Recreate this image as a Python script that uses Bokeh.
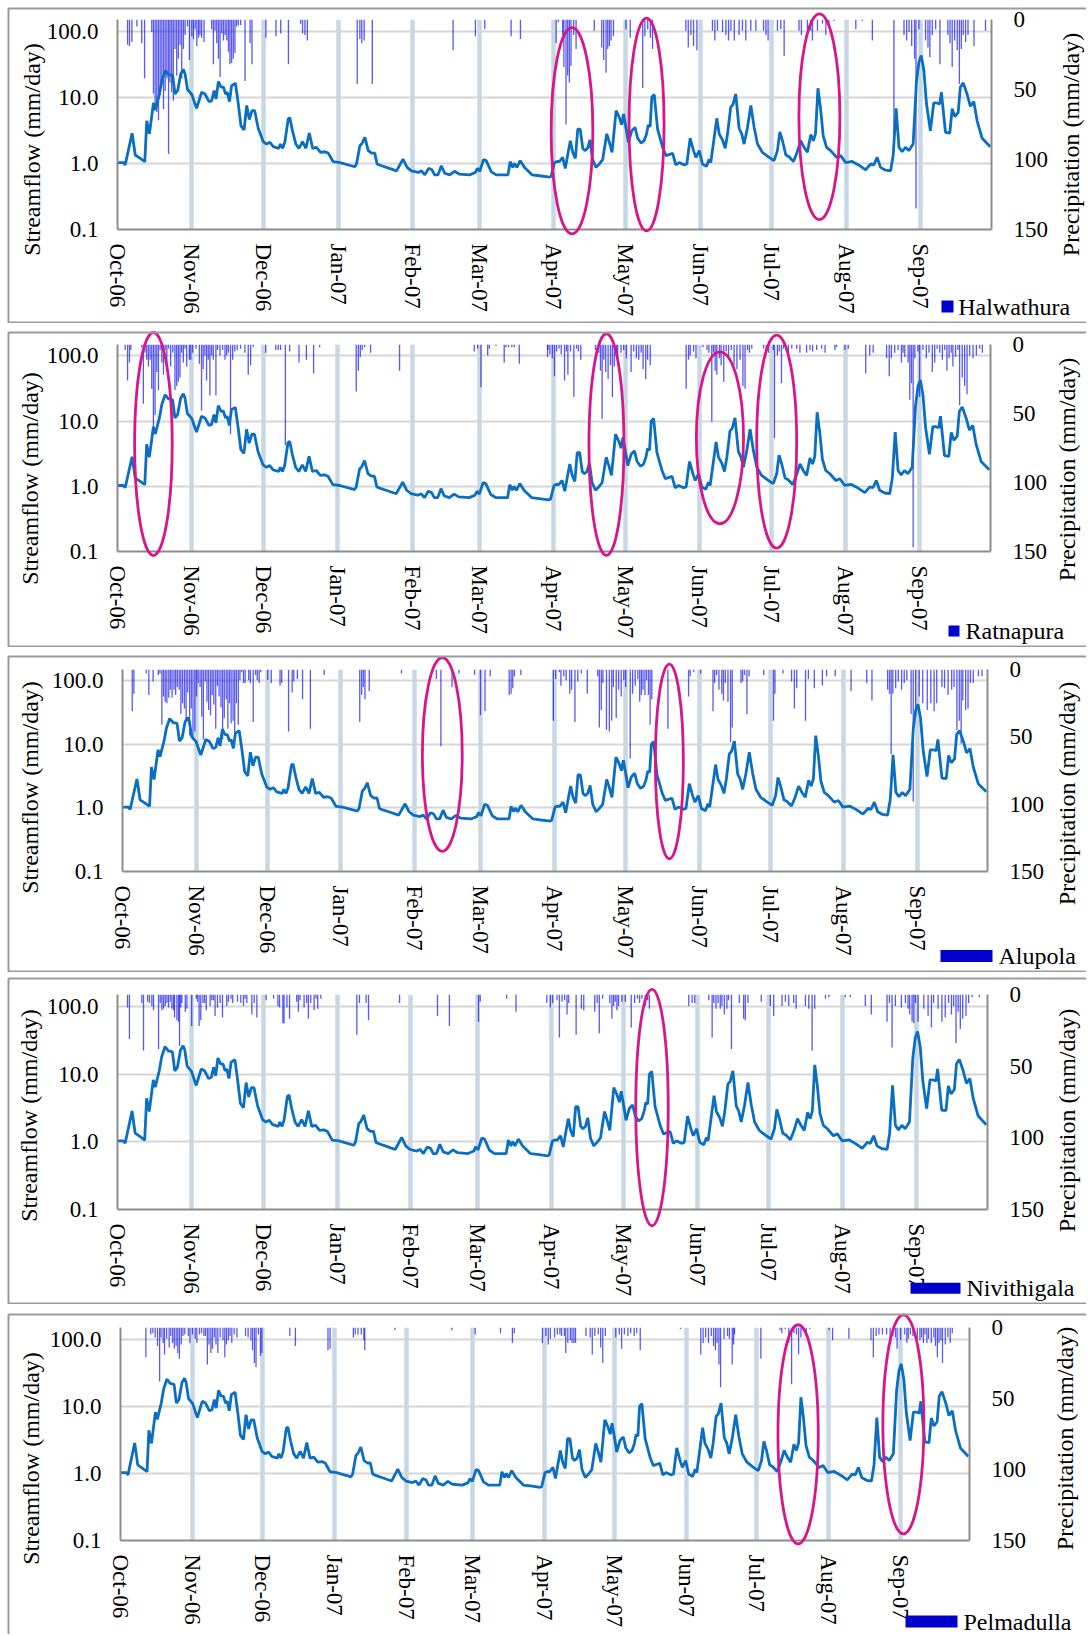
import math
from bokeh.plotting import figure
from bokeh.models import Range1d, LinearScale, LinearAxis, FixedTicker, PrintfTickFormatter
from bokeh.embed import file_html
from bokeh.resources import INLINE
from bokeh.core.properties import value

SERIF = "Liberation Serif"

# ---------------- data ----------------
# day 0 = 1 Oct 2006
month_days = [0, 31, 61, 92, 123, 151, 182, 212, 243, 273, 304, 335]
month_labels = ["Oct-06", "Nov-06", "Dec-06", "Jan-07", "Feb-07", "Mar-07",
                "Apr-07", "May-07", "Jun-07", "Jul-07", "Aug-07", "Sep-07"]
flow_ticks = [0.1, 1, 10, 100]
precip_ticks = [0, 50, 100, 150]

flow_day = [0, 2.5, 3.2, 6.1, 7.4, 9.5, 11.4, 12.2, 13.3, 15.0,
            15.8, 17.5, 18.5, 19.9, 21.3, 23.0, 24.0, 25.1, 26.4, 27.5,
            28.2, 29.2, 31.0, 33.0, 35.1, 36.5, 38.2, 39.3, 40.3, 41.1,
            42.1, 43.2, 44.2, 45.1, 45.8, 46.7, 47.6, 49.2, 50.4, 51.5,
            52.8, 53.9, 55.0, 56.1, 57.2, 58.7, 60.8, 62.2, 63.6, 65.0,
            67.3, 68.0, 68.9, 69.8, 71.2, 71.9, 73.0, 74.4, 75.7, 77.2,
            78.6, 80.0, 81.4, 83.0, 84.7, 86.5, 87.9, 90.0, 92.8, 99.0,
            99.7, 101.1, 102.0, 103.2, 104.6, 106.0, 107.3, 108.3, 110.1, 112.2,
            116.4, 119.1, 120.8, 122.6, 125.4, 126.8, 128.2, 129.8, 131.2, 132.3,
            133.7, 135.1, 136.5, 138.6, 140.6, 142.5, 146.9, 149.3, 150.1, 151.1,
            152.7, 153.8, 155.9, 158.0, 162.9, 163.8, 164.9, 165.6, 166.6, 168.0,
            169.8, 173.0, 176.0, 180.2,
            180.9, 182.3, 183.4, 184.3, 185.7, 186.8, 187.8, 188.9, 189.9, 191.0,
            192.0, 193.0, 194.1, 195.0, 196.1, 197.1, 198.2, 199.6, 201.0, 202.4,
            204.1, 205.2, 206.3, 208.0, 209.3, 210.3, 211.1, 212.1, 213.1, 214.5,
            215.9, 217.0, 218.4, 219.7, 220.7, 221.4, 222.2, 222.9, 223.9, 225.3,
            227.4, 228.8, 231.6, 232.9, 234.3, 236.4, 237.5, 238.9, 240.3, 241.3,
            242.7, 244.0, 245.7, 246.8, 247.5, 250.0, 251.0, 252.4, 253.5, 254.5,
            255.8, 256.7, 257.9, 259.3, 260.4, 261.4, 262.8, 264.2, 265.6, 267.0,
            269.0, 271.8, 273.9, 275.3, 276.3, 277.4, 278.8, 280.1, 282.0, 283.6,
            285.0, 286.4, 287.8, 289.2, 290.3, 291.2, 292.2, 293.3, 294.4, 295.8,
            297.5, 300.0, 301.7, 303.7, 306.5, 309.3, 312.1, 314.2, 315.5, 316.9,
            318.3, 320.4, 322.5, 323.6, 324.8, 326.0, 327.3, 328.7, 330.1, 331.9,
            333.3, 334.3, 335.3, 336.4, 337.5, 339.1, 340.5, 341.9, 343.0, 343.7,
            345.4, 347.2, 348.2, 349.3, 350.7, 351.6, 352.8, 354.4, 355.8, 357.2,
            358.6, 360.7, 364.1]
flow_val = [1.03, 1.03, 0.95, 2.85, 1.34, 1.19, 1.06, 4.4, 2.8, 8.2,
            6.4, 11.2, 17.9, 25.4, 22.0, 21.3, 11.2, 12.6, 22.6, 26.3,
            22.6, 13.1, 11.0, 6.8, 11.9, 11.2, 8.6, 8.9, 12.6, 9.4,
            17.3, 14.2, 14.2, 11.2, 11.9, 8.6, 15.0, 16.3, 7.9, 3.7,
            3.2, 7.5, 4.6, 6.3, 6.3, 3.4, 2.13, 1.96, 2.08, 1.79,
            1.69, 1.96, 1.69, 2.08, 4.7, 4.9, 3.1, 1.96, 1.69, 2.13,
            1.69, 2.88, 1.69, 1.75, 1.47, 1.50, 1.43, 1.06, 1.03, 0.89,
            0.98, 1.85, 2.0, 2.48, 1.56, 1.43, 1.43, 0.98, 0.92, 0.87,
            0.77, 1.16, 0.87, 0.77, 0.73, 0.77, 0.67, 0.84, 0.80, 0.67,
            0.67, 0.92, 0.71, 0.67, 0.76, 0.69, 0.67, 0.73, 0.84, 0.76,
            1.14, 1.10, 0.75, 0.67, 0.67, 1.06, 0.87, 1.0, 0.87, 1.10,
            0.87, 0.67, 0.65, 0.62,
            0.64, 1.03, 1.07, 1.06, 1.23, 0.84, 1.34, 2.2, 1.47, 1.19,
            3.3, 3.3, 1.69, 1.56, 1.69, 2.26, 1.14, 0.87, 0.98, 1.14,
            2.8, 2.08, 1.47, 6.3, 5.0, 3.85, 5.6, 3.5, 2.08, 3.1,
            3.5, 2.4, 2.03, 2.2, 2.8, 3.8, 3.6, 10.0, 11.0, 3.3,
            1.75, 1.31, 1.42, 0.95, 1.03, 0.95, 0.98, 2.4, 1.56, 1.23,
            1.56, 0.98, 0.90, 1.16, 1.03, 4.8, 2.8, 2.26, 1.69, 2.8,
            7.1, 7.7, 11.2, 3.4, 2.8, 1.96, 3.5, 7.5, 3.5, 1.96,
            1.47, 1.23, 1.10, 1.56, 3.0, 2.2, 1.34, 1.26, 1.07, 1.50,
            2.2, 1.75, 1.47, 2.72, 2.2, 2.85, 13.7, 6.7, 2.6, 1.75,
            1.56, 1.23, 1.31, 1.03, 1.07, 0.94, 0.80, 0.98, 0.95, 1.23,
            0.87, 0.79, 0.77, 1.34, 6.8, 1.75, 1.50, 1.75, 1.56, 1.96,
            17.3, 33.9, 42.8, 25.4, 7.9, 3.1, 8.2, 8.2, 7.9, 11.9,
            2.95, 2.88, 6.7, 5.1, 5.9, 14.2, 16.5, 11.2, 7.3, 8.6,
            4.4, 2.4, 1.79]

halwathura_day = [4.2, 5.0, 6.0, 8.1, 10.1, 11.3, 14.3, 15.0, 15.7, 16.4, 17.1, 17.8, 18.5, 19.2, 19.9, 20.6,
                  21.3, 21.9, 22.6, 23.3, 24.0, 24.7, 25.4, 26.1, 26.8, 27.5, 28.2, 29.2, 30.0, 31.0, 31.7,
                  32.4, 33.1, 33.8, 34.4, 35.1, 36.1, 39.3, 40.0, 40.7, 41.4, 42.1, 42.8, 43.5, 44.2, 44.9,
                  45.6, 46.3, 46.9, 47.6, 48.3, 49.0, 49.7, 50.4, 51.4, 53.2, 55.3, 56.1, 61.9, 66.1, 68.1,
                  71.3, 76.4, 77.2, 78.2, 79.2, 100.0, 101.1, 101.9, 102.9, 106.3, 140.0, 149.3, 153.2, 164.2,
                  168.1,
                  183.0, 183.9, 185.7, 186.2, 187.1, 187.8, 188.5, 189.2, 190.3, 191.3, 198.9, 202.0, 202.8,
                  203.8, 204.5, 205.2, 205.9, 206.9, 212.1, 213.9, 219.1, 220.0, 221.2, 222.3, 223.2, 237.1,
                  238.1, 239.2, 240.3, 241.7, 248.2, 249.2, 250.3, 252.4, 253.8, 254.9, 255.9, 257.3, 259.3,
                  260.7, 262.1, 264.2, 266.3, 269.5, 270.5, 271.4, 275.3, 276.7, 278.1, 284.3, 285.3, 287.8,
                  289.2, 289.9, 292.0, 294.1, 295.5, 296.8, 298.9, 308.0, 310.7, 314.9, 323.9, 328.1, 329.2,
                  330.2, 331.3, 332.5, 333.1, 334.3, 337.1, 338.1, 338.9, 339.9, 341.3, 343.1, 346.4, 347.3,
                  348.2, 349.2, 350.3, 351.2, 352.0, 352.8, 353.8, 354.8, 357.3, 362.1]
halwathura_mm = [18, 19, 16, 5, 17, 42, 9, 53, 62, 66, 72, 54, 47, 64, 51, 42,
                 96, 45, 52, 58, 21, 40, 28, 18, 42, 21, 11, 5, 29, 12, 14,
                 7, 19, 13, 11, 13, 16, 7, 32, 8, 17, 28, 41, 10, 15, 11,
                 15, 23, 32, 31, 28, 24, 5, 4, 4, 44, 17, 32, 13, 12, 10,
                 32, 3, 10, 11, 15, 46, 14, 17, 15, 46, 22, 12, 7, 12,
                 14,
                 17, 2, 11, 34, 75, 40, 45, 33, 11, 21, 8, 20, 29,
                 38, 21, 19, 15, 12, 7, 13, 49, 12, 7, 13, 21, 8,
                 20, 11, 19, 22, 8, 15, 8, 9, 11, 15, 8, 15, 11,
                 8, 15, 8, 8, 8, 11, 15, 8, 7, 26, 8, 11, 7,
                 8, 15, 8, 3, 11, 5, 1, 7, 1, 15, 95, 11, 15,
                 9, 19, 28, 135, 7, 15, 20, 27, 11, 7, 32, 11, 17,
                 34, 15, 22, 46, 21, 11, 16, 11, 19, 8]

ratnapura_day = [3.2, 4.2, 5.0, 5.6, 10.1, 10.8, 11.5, 12.2, 12.9, 13.6, 14.3, 15.0, 15.7, 16.4, 17.1, 17.8,
                 18.5, 19.2, 19.9, 20.6, 21.3, 22.2, 23.1, 24.0, 24.7, 25.4, 26.1, 26.8, 27.5, 28.2, 28.9,
                 30.0, 30.6, 31.4, 32.8, 34.2, 35.1, 35.8, 36.5, 37.2, 37.9, 38.6, 39.3, 40.0, 41.1, 41.8,
                 42.8, 43.9, 44.9, 45.6, 46.3, 47.2, 48.1, 49.0, 50.0, 51.4, 53.2, 54.6, 55.6, 56.7, 61.9,
                 66.1, 67.1, 68.1, 70.1, 71.9, 75.8, 78.9, 81.9, 84.4, 99.7, 100.6, 101.4, 102.2, 103.2,
                 105.7, 117.8, 149.0, 150.4, 151.8, 154.6, 155.3, 158.1, 161.5, 162.2, 163.3, 164.7, 165.7,
                 167.8, 179.6,
                 179.8, 180.6, 181.6, 182.5, 183.4, 184.4, 185.3, 186.7, 187.5, 188.1, 189.2, 190.6, 191.7,
                 192.5, 193.5, 199.6, 201.0, 201.7, 202.4, 203.1, 203.9, 204.9, 205.9, 206.7, 207.5, 208.4,
                 208.9, 210.3, 211.4, 212.5, 214.5, 215.6, 216.7, 217.7, 218.7, 219.5, 220.6, 221.4, 222.5,
                 237.5, 238.5, 239.2, 240.6, 241.6, 244.5, 246.2, 247.0, 248.2, 248.9, 249.6, 250.3, 251.4,
                 252.1, 253.2, 254.2, 255.2, 256.3, 257.5, 258.7, 260.0, 261.2, 262.1, 263.1, 263.9, 264.9,
                 269.8, 270.9, 271.9, 273.9, 274.4, 275.6, 276.4, 277.3, 278.1, 280.2, 281.6, 283.7, 285.0,
                 287.8, 289.2, 290.3, 292.0, 294.1, 295.5, 299.6, 300.3, 303.8, 305.2, 312.5, 314.2, 315.6,
                 321.2, 322.3, 323.2, 324.6, 326.0, 327.4, 328.1, 328.8, 330.2, 330.9, 331.6, 332.3, 333.0,
                 334.3, 335.0, 336.4, 337.8, 338.9, 340.3, 341.3, 342.3, 343.4, 344.5, 345.5, 346.4, 347.3,
                 348.2, 348.9, 350.0, 351.0, 351.7, 352.8, 353.8, 354.8, 355.9, 357.3, 358.7, 360.1, 361.2]
ratnapura_mm = [4, 26, 13, 4, 2, 43, 6, 11, 16, 11, 32, 63, 51, 20, 33, 4,
                13, 22, 4, 14, 3, 16, 6, 33, 30, 27, 24, 6, 13, 3, 16,
                11, 11, 6, 3, 14, 48, 18, 8, 26, 11, 37, 8, 11, 37, 4,
                8, 4, 11, 8, 6, 65, 11, 5, 4, 3, 6, 22, 15, 2, 6,
                4, 4, 4, 73, 5, 13, 11, 21, 2, 34, 19, 9, 4, 2,
                6, 19, 5, 3, 31, 8, 3, 1, 13, 2, 2, 2, 2,
                14, 9,
                4, 7, 10, 23, 5, 3, 7, 26, 5, 22, 5, 38, 3,
                5, 11, 4, 6, 19, 54, 11, 20, 25, 15, 38, 16, 8,
                10, 6, 4, 10, 20, 5, 10, 11, 6, 18, 25, 11, 15,
                32, 11, 8, 5, 10, 2, 4, 6, 56, 6, 19, 22, 10,
                15, 27, 5, 11, 4, 15, 18, 11, 30, 32, 4, 6, 3,
                3, 4, 6, 4, 68, 8, 5, 28, 3, 6, 3, 3, 6,
                6, 4, 5, 4, 3, 6, 4, 2, 4, 3, 21, 8, 6,
                10, 23, 10, 6, 4, 13, 6, 9, 13, 40, 28, 147, 10,
                5, 38, 4, 10, 6, 20, 13, 3, 6, 11, 4, 19, 10,
                6, 16, 9, 4, 44, 24, 30, 36, 8, 10, 8, 3, 6]

alupola_day = [4.1, 4.8, 10.0, 11.1, 12.9, 15.1, 15.8, 16.6, 17.3, 18.0, 18.7, 19.5, 20.2, 20.9, 21.7, 22.4,
               23.1, 23.9, 24.6, 25.3, 26.1, 26.8, 27.5, 28.3, 29.0, 29.7, 30.5, 31.2, 31.9, 32.7, 33.4,
               34.1, 34.9, 35.6, 36.3, 37.1, 37.8, 38.5, 39.3, 40.0, 40.7, 41.5, 42.2, 42.9, 43.7, 44.4,
               45.1, 45.8, 46.6, 47.3, 48.0, 48.8, 49.5, 50.2, 51.0, 51.7, 53.2, 53.9, 55.1, 56.1, 56.8,
               57.6, 58.3, 61.2, 62.7, 66.4, 67.1, 70.0, 71.5, 72.2, 73.7, 75.9, 79.2, 85.0, 100.0, 100.8,
               101.5, 102.2, 104.0, 117.6, 132.3, 134.2, 138.9, 141.8, 148.4, 150.9, 152.8, 155.0, 163.0,
               163.8, 164.5, 165.2, 167.9,
               181.6, 182.6, 184.1, 184.8, 186.0, 187.0, 188.5, 189.3, 190.7, 191.9, 193.4, 195.9, 200.3,
               201.0, 201.8, 202.5, 204.0, 205.2, 206.2, 206.9, 208.1, 209.1, 210.2, 211.3, 212.1, 214.0,
               215.0, 216.1, 217.2, 218.0, 218.7, 219.4, 220.2, 220.9, 221.7, 222.4, 223.1, 229.9, 238.6,
               239.3, 240.8, 243.7, 248.9, 249.6, 250.4, 251.4, 252.6, 253.3, 254.1, 255.2, 256.3, 257.0,
               260.7, 261.4, 262.2, 263.2, 264.1, 270.3, 274.4, 275.0, 278.4, 282.0, 283.2, 284.2, 287.9,
               289.1, 291.6, 295.0, 296.8, 300.4, 307.1, 313.7, 315.9, 322.5, 323.3, 324.0, 324.7, 325.9,
               327.0, 328.4, 329.5, 330.6, 332.4, 333.3, 334.3, 335.8, 337.3, 339.2, 340.7, 342.1, 343.2,
               345.4, 346.5, 348.0, 349.5, 350.5, 351.7, 352.7, 353.5, 354.2, 355.4, 356.4, 357.4, 358.6,
               360.8, 362.3]
alupola_mm = [31, 18, 3, 19, 9, 4, 3, 41, 20, 24, 25, 21, 15, 21, 15, 19,
              13, 15, 33, 25, 29, 39, 17, 49, 29, 52, 46, 20, 10, 13, 35,
              52, 9, 24, 30, 34, 19, 26, 44, 12, 20, 28, 52, 36, 22, 44,
              25, 40, 38, 52, 25, 41, 8, 2, 10, 10, 8, 10, 39, 4, 8,
              10, 2, 8, 10, 12, 10, 46, 17, 9, 7, 22, 44, 4, 39, 19,
              13, 22, 16, 3, 7, 57, 13, 3, 4, 34, 31, 5, 19,
              18, 14, 5, 4,
              38, 7, 2, 12, 5, 8, 18, 15, 39, 9, 3, 18, 5,
              43, 30, 10, 45, 46, 38, 13, 36, 15, 20, 8, 13, 66,
              18, 12, 7, 24, 19, 15, 19, 8, 19, 41, 22, 44, 20,
              5, 2, 3, 31, 10, 4, 15, 18, 23, 10, 24, 54, 43,
              10, 9, 4, 33, 5, 4, 38, 18, 3, 9, 29, 14, 38,
              7, 14, 12, 5, 5, 16, 10, 23, 15, 18, 63, 18, 14,
              9, 15, 10, 8, 33, 98, 35, 20, 25, 30, 25, 31, 25,
              13, 14, 19, 15, 13, 45, 38, 55, 23, 30, 29, 10, 10,
              5, 5]

nivithigala_day = [4.2, 5.0, 10.2, 10.9, 12.6, 13.4, 14.4, 15.1, 17.2, 17.9, 18.6, 19.3, 20.0, 20.7, 21.4,
                   22.1, 22.8, 23.5, 23.9, 24.9, 25.6, 26.0, 26.5, 27.0, 28.4, 29.1, 31.1, 33.0, 33.5, 34.2,
                   34.9, 35.8, 36.5, 37.2, 38.8, 39.5, 40.2, 40.9, 41.9, 43.0, 44.0, 45.8, 46.5, 47.6, 48.3,
                   50.3, 51.7, 52.8, 53.5, 54.2, 56.3, 57.3, 58.4, 62.3, 65.4, 67.2, 67.9, 69.3, 69.8, 71.0,
                   72.1, 75.1, 75.8, 76.5, 78.2, 79.3, 80.0, 81.0, 82.4, 83.2, 83.9, 85.2, 100.3, 101.4,
                   104.2, 105.2, 118.2, 134.1, 139.1, 151.3, 152.0, 163.1, 167.0, 179.9,
                   181.4, 182.4, 184.2, 185.2, 186.3, 187.4, 188.4, 189.1, 192.2, 194.4, 195.4, 200.0, 201.0,
                   201.9, 203.3, 206.3, 207.2, 207.9, 208.6, 209.3, 210.0, 211.4, 212.8, 215.3, 216.7, 217.9,
                   218.8, 219.8, 221.2, 222.2, 222.9, 239.4, 240.8, 241.9, 247.8, 249.2, 249.9, 250.8, 251.7,
                   252.6, 253.3, 254.3, 255.4, 256.1, 257.3, 260.6, 262.4, 263.1, 264.2, 269.8, 273.6, 275.0,
                   278.5, 279.9, 281.3, 283.4, 284.4, 288.3, 289.7, 291.1, 292.2, 296.7, 298.1, 305.0, 307.1,
                   313.4, 315.9, 322.5, 323.5, 324.6, 326.0, 328.5, 330.2, 331.3, 332.0, 333.0, 333.7, 334.4,
                   335.5, 337.9, 339.7, 341.1, 342.0, 343.9, 345.5, 346.9, 348.3, 349.5, 350.4, 351.4, 352.3,
                   353.2, 354.2, 355.6, 356.7, 358.1, 361.2]
nivithigala_mm = [9, 31, 6, 39, 5, 6, 8, 11, 38, 6, 11, 10, 8, 6, 9,
                  5, 10, 11, 16, 18, 19, 36, 9, 6, 12, 10, 22, 3, 5, 22,
                  18, 6, 6, 11, 8, 4, 4, 15, 9, 6, 16, 8, 5, 3, 6,
                  5, 6, 8, 3, 6, 14, 6, 16, 4, 3, 8, 9, 20, 20, 9,
                  17, 5, 12, 4, 9, 6, 17, 6, 11, 3, 10, 3, 28, 6,
                  6, 18, 6, 15, 22, 19, 5, 3, 12, 6,
                  9, 6, 4, 30, 5, 4, 14, 6, 28, 10, 11, 12, 6,
                  27, 3, 6, 17, 8, 5, 11, 8, 5, 5, 23, 6, 3,
                  6, 3, 8, 4, 10, 8, 6, 6, 4, 30, 6, 10, 6,
                  10, 8, 14, 10, 4, 38, 6, 17, 18, 6, 5, 8, 15,
                  8, 5, 8, 6, 10, 8, 10, 39, 10, 3, 2, 2, 2,
                  8, 14, 19, 6, 37, 8, 9, 6, 10, 14, 19, 20, 6,
                  19, 10, 15, 23, 6, 10, 19, 16, 6, 14, 8, 34, 12,
                  24, 17, 15, 6, 2, 2]

pelmadulla_day = [10.9, 13.0, 13.9, 14.9, 15.9, 16.8, 17.4, 18.3, 18.9, 19.8, 20.9, 21.6, 22.4, 23.1, 23.9,
                  24.6, 25.3, 26.1, 26.8, 27.6, 29.1, 29.8, 30.9, 32.1, 32.8, 33.9, 34.8, 35.8, 36.5, 37.3,
                  38.0, 38.8, 39.5, 40.3, 41.0, 41.8, 42.8, 44.0, 44.8, 45.5, 46.3, 47.0, 47.8, 48.8, 50.0,
                  53.7, 54.8, 56.0, 56.7, 57.5, 58.2, 59.2, 60.1, 60.7, 72.7, 75.1, 89.1, 90.0, 100.0, 100.8,
                  102.0, 103.4, 104.5, 104.9, 117.9, 142.3, 152.3, 163.2, 168.3, 169.1,
                  181.2, 182.7, 183.7, 184.6, 186.4, 187.6, 188.7, 189.4, 190.6, 191.2, 192.1, 193.2, 193.9,
                  194.7, 195.4, 199.9, 201.7, 202.6, 203.7, 205.2, 206.2, 207.1, 208.2, 212.7, 214.2, 215.2,
                  216.4, 217.9, 219.1, 220.6, 221.7, 223.2, 240.5, 249.2, 250.2, 251.3, 252.5, 253.7, 254.7,
                  255.5, 256.2, 257.0, 257.7, 259.2, 260.7, 261.5, 262.7, 263.3, 263.7, 275.0, 283.2, 284.0,
                  285.5, 287.0, 288.2, 289.2, 290.3, 291.2, 292.2, 294.5, 296.0, 304.3, 305.8, 312.8, 322.3,
                  323.3, 324.5, 325.7, 327.2, 329.0, 330.5, 331.7, 332.8, 333.5, 335.0, 336.8, 337.7, 338.3,
                  339.2, 340.3, 342.2, 343.3, 344.0, 344.8, 345.5, 346.3, 347.0, 348.2, 349.3, 350.0, 350.8,
                  351.5, 352.3, 353.0, 354.2, 355.3, 356.3, 357.2]
pelmadulla_mm = [21, 5, 4, 7, 13, 38, 7, 11, 19, 8, 14, 6, 11, 15, 13,
                 18, 22, 12, 6, 5, 6, 11, 5, 8, 11, 5, 4, 6, 6, 26,
                 12, 18, 15, 7, 12, 18, 7, 9, 21, 12, 9, 6, 11, 5, 7,
                 6, 7, 9, 16, 25, 28, 5, 20, 18, 6, 13, 16, 15, 7, 5,
                 5, 5, 9, 16, 2, 2, 5, 4, 11, 4,
                 11, 6, 12, 8, 7, 5, 5, 6, 6, 18, 11, 9, 11,
                 11, 11, 6, 7, 19, 6, 5, 14, 25, 6, 7, 5, 15,
                 5, 6, 4, 6, 4, 16, 1, 19, 11, 7, 11, 6, 13,
                 16, 11, 26, 42, 8, 6, 8, 26, 12, 5, 22, 2, 4,
                 1, 11, 40, 4, 5, 19, 7, 4, 1, 2, 9, 8, 9,
                 21, 6, 5, 5, 5, 8, 6, 7, 15, 9, 5, 11, 8,
                 5, 6, 8, 9, 7, 11, 5, 11, 8, 11, 7, 13, 21,
                 11, 9, 25, 12, 7, 11, 4]

# highlight ellipses: centre day, centre precipitation (mm), width (days), height (mm)
halwathura_ell_day = [189.6, 220.7, 292.8]
halwathura_ell_mm = [79.5, 75.0, 69.5]
halwathura_ell_w = [17.4, 14.6, 17.1]
halwathura_ell_h = [147.5, 152.0, 147.0]
ratnapura_ell_day = [15.0, 204.2, 251.6, 275.3]
ratnapura_ell_mm = [72.1, 72.5, 67.6, 70.4]
ratnapura_ell_w = [15.7, 14.6, 19.7, 16.7]
ratnapura_ell_h = [161.6, 160.9, 124.6, 154.4]
alupola_ell_day = [134.8, 230.5]
alupola_ell_mm = [63.1, 68.3]
alupola_ell_w = [16.8, 11.8]
alupola_ell_h = [144.0, 144.5]
nivithigala_ell_day = [224.0]
nivithigala_ell_mm = [78.9]
nivithigala_ell_w = [13.6]
nivithigala_ell_h = [164.9]
pelmadulla_ell_day = [291.0, 336.2]
pelmadulla_ell_mm = [75.2, 68.2]
pelmadulla_ell_w = [17.3, 17.6]
pelmadulla_ell_h = [154.3, 154.3]

assert len(flow_day) == len(flow_val)

# ---------------- layout (page pixels) ----------------
panels = [
    dict(name="Halwathura", day=halwathura_day, mm=halwathura_mm,
         ell=(halwathura_ell_day, halwathura_ell_mm, halwathura_ell_w, halwathura_ell_h),
         L=117.3, R=991.7, T=19.0, B=228.5, top=7, bottom=323, box_bottom_visible=True,
         leg_x=941, leg_w=12, leg_lw=12, leg_cy=306, leg_tx=957.7,
         tl=(31, 149), tr=(1070, 144)),
    dict(name="Ratnapura", day=ratnapura_day, mm=ratnapura_mm,
         ell=(ratnapura_ell_day, ratnapura_ell_mm, ratnapura_ell_w, ratnapura_ell_h),
         L=117.3, R=990.0, T=344.3, B=551.0, top=331, bottom=647, box_bottom_visible=True,
         leg_x=948, leg_w=11, leg_lw=11, leg_cy=630.5, leg_tx=965,
         tl=(29, 478), tr=(1066, 469)),
    dict(name="Alupola", day=alupola_day, mm=alupola_mm,
         ell=(alupola_ell_day, alupola_ell_mm, alupola_ell_w, alupola_ell_h),
         L=122.4, R=987.4, T=669.3, B=871.7, top=655, bottom=972, box_bottom_visible=True,
         leg_x=940, leg_w=52, leg_lw=12, leg_cy=955.5, leg_tx=998,
         tl=(29, 787), tr=(1066, 793)),
    dict(name="Nivithigala", day=nivithigala_day, mm=nivithigala_mm,
         ell=(nivithigala_ell_day, nivithigala_ell_mm, nivithigala_ell_w, nivithigala_ell_h),
         L=117.3, R=987.7, T=994.0, B=1209.3, top=977, bottom=1304, box_bottom_visible=True,
         leg_x=910, leg_w=50, leg_lw=11, leg_cy=1287.7, leg_tx=966,
         tl=(28, 1115), tr=(1066, 1120)),
    dict(name="Pelmadulla", day=pelmadulla_day, mm=pelmadulla_mm,
         ell=(pelmadulla_ell_day, pelmadulla_ell_mm, pelmadulla_ell_w, pelmadulla_ell_h),
         L=120.0, R=968.8, T=1326.7, B=1539.3, top=1313, bottom=1634, box_bottom_visible=False,
         leg_x=905, leg_w=52, leg_lw=12, leg_cy=1621, leg_tx=963,
         tl=(30, 1458), tr=(1064, 1438)),
]

X_END = 364.6
BOX_L, BOX_R = 7, 1086
AXIS_GREY = "#8c8c8c"
BOX_GREY = "#9b9b9b"


def make_panel(cfg):
    total_w = BOX_R - BOX_L
    total_h = cfg["bottom"] - cfg["top"]
    mbl = int(round(cfg["L"] - BOX_L))
    fw = int(round(cfg["R"] - cfg["L"]))
    mbr = total_w - mbl - fw
    mbt = int(round(cfg["T"] - cfg["top"]))
    fh = int(round(cfg["B"] - cfg["T"]))
    mbb = total_h - mbt - fh

    # actual page position of the frame, used to place the non-data decorations
    Lp = BOX_L + mbl
    Tp = cfg["top"] + mbt
    ppd = fw / X_END
    ppm = fh / 150.0

    def dx(px):
        return (px - Lp) / ppd

    def dy(py):
        return (py - Tp) / ppm

    p = figure(width=total_w, height=total_h, frame_width=fw, frame_height=fh,
               x_range=Range1d(0, X_END), y_range=Range1d(0.1, 150),
               y_axis_type="log", output_backend="svg", toolbar_location=None,
               min_border_left=mbl, min_border_right=mbr, min_border_top=mbt, min_border_bottom=mbb,
               styles={"position": "absolute", "left": f"{BOX_L}px", "top": f"{cfg['top']}px",
                       "margin": "0px"})
    p.outline_line_color = None
    p.background_fill_color = "white"
    p.border_fill_color = "white"
    p.extra_y_ranges = {"precip": Range1d(150, 0)}
    p.extra_y_scales = {"precip": LinearScale()}

    # grids
    p.xgrid.ticker = FixedTicker(ticks=month_days)
    p.xgrid.grid_line_color = "#c7d7e4"
    p.xgrid.grid_line_width = 4.5
    p.ygrid.ticker = FixedTicker(ticks=flow_ticks)
    p.ygrid.grid_line_color = "#d6d6d6"
    p.ygrid.grid_line_width = 2

    def style_axis(ax, standoff):
        ax.axis_line_color = AXIS_GREY
        ax.axis_line_width = 2
        ax.major_tick_line_color = None
        ax.minor_tick_line_color = None
        ax.major_tick_out = 0
        ax.major_tick_in = 0
        ax.minor_tick_out = 0
        ax.major_label_standoff = standoff
        ax.major_label_text_font = SERIF
        ax.major_label_text_font_size = "23px"
        ax.major_label_text_color = "black"

    ya = p.yaxis[0]
    ya.ticker = FixedTicker(ticks=flow_ticks)
    ya.formatter = PrintfTickFormatter(format="%.1f")
    style_axis(ya, 19)

    xa = p.xaxis[0]
    xa.ticker = FixedTicker(ticks=month_days)
    xa.major_label_overrides = {d: lab for d, lab in zip(month_days, month_labels)}
    xa.major_label_orientation = "vertical"
    style_axis(xa, 14)

    ra = LinearAxis(y_range_name="precip", ticker=FixedTicker(ticks=precip_ticks))
    style_axis(ra, 22)
    p.add_layout(ra, "right")

    # precipitation bars hanging from the top
    p.vbar(x=cfg["day"], top=0, bottom=cfg["mm"], width=0.55, y_range_name="precip",
           fill_color="#0c0ce6", fill_alpha=0.68, line_color=None)

    # streamflow
    p.line(flow_day, flow_val, line_color="#0a6fc0", line_width=2.8)

    # highlight ellipses
    ed, em, ew, eh = cfg["ell"]
    p.ellipse(x=ed, y=em, width=ew, height=eh, y_range_name="precip",
              fill_color=None, line_color="#d6168b", line_width=2.8, level="overlay")

    # panel box (left, top, bottom edges; right edge lies beyond the page)
    bx0, bx1 = dx(BOX_L + 1), dx(BOX_R + 20)
    by0 = dy(cfg["top"] + 1)
    by1 = dy(cfg["bottom"] - 1) if cfg["box_bottom_visible"] else dy(cfg["bottom"] + 20)
    p.quad(left=bx0, right=bx1, top=by0, bottom=by1, y_range_name="precip",
           fill_color=None, line_color=BOX_GREY, line_width=2, level="overlay")

    # axis titles
    lx, ly = cfg["tl"]
    rx, ry = cfg["tr"]
    p.text(x=[dx(lx), dx(rx)], y=[dy(ly), dy(ry)],
           text=["Streamflow (mm/day)", "Precipitation (mm/day)"],
           angle=math.pi / 2, text_align="center", text_baseline="middle",
           text_font=value(SERIF), text_font_size=value("24px"), text_color="black",
           y_range_name="precip", level="overlay")

    # legend swatch and label
    p.rect(x=[dx(cfg["leg_x"] + cfg["leg_w"] / 2)], y=[dy(cfg["leg_cy"])],
           width=cfg["leg_w"], height=cfg["leg_lw"], width_units="screen", height_units="screen",
           fill_color="#0000cc", line_color=None, y_range_name="precip", level="overlay")
    p.text(x=[dx(cfg["leg_tx"])], y=[dy(cfg["leg_cy"])], text=[cfg["name"]],
           text_align="left", text_baseline="middle",
           text_font=value(SERIF), text_font_size=value("24px"), text_color="black",
           y_range_name="precip", level="overlay")
    return p


figs = [make_panel(cfg) for cfg in panels]
open("out.html", "w").write(file_html(figs, INLINE))
